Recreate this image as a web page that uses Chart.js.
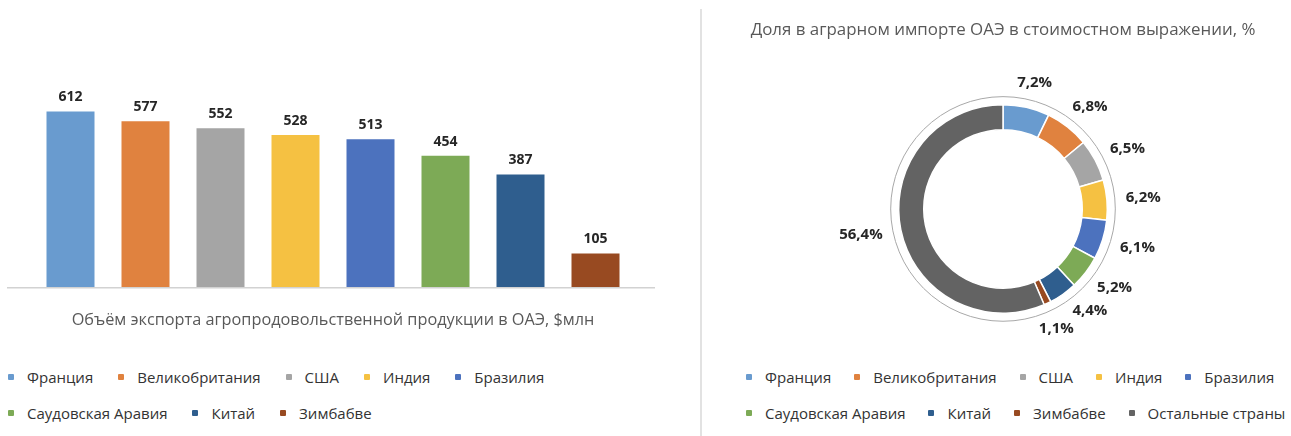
<!DOCTYPE html>
<html>
<head>
<meta charset="utf-8">
<script src="https://cdn.jsdelivr.net/npm/chart.js@4.4.1/dist/chart.umd.min.js"></script>
<style>
html,body{margin:0;padding:0;background:#fff;width:1291px;height:436px;overflow:hidden;font-family:"Open Sans",sans-serif;}
#leftBox{position:absolute;left:0;top:0;width:680px;height:330px;}
#rightBox{position:absolute;left:715px;top:0;width:576px;height:345px;}
#divider{position:absolute;left:700px;top:9px;width:2px;height:427px;background:#e2e2e2;}
.legend{position:absolute;top:359px;display:flex;flex-wrap:wrap;column-gap:25px;font-size:15px;color:#333;}
.legend .item{display:flex;align-items:center;height:36px;line-height:36px;white-space:nowrap;}
.legend .mk{width:6px;height:6px;border-radius:1px;margin-right:13px;}
#leftLegend{left:8px;width:620px;}
#rightLegend{left:746px;width:600px;column-gap:23px;}
</style>
</head>
<body>
<div id="leftBox"><canvas id="bar"></canvas></div>
<div id="divider"></div>
<div id="rightBox"><canvas id="donut"></canvas></div>
<div id="leftLegend" class="legend"></div>
<div id="rightLegend" class="legend"></div>
<script>
// ---- data ----
const countries = ["Франция","Великобритания","США","Индия","Бразилия","Саудовская Аравия","Китай","Зимбабве"];
const exportValues = [612, 577, 552, 528, 513, 454, 387, 105];
const shareLabels = ["Франция","Великобритания","США","Индия","Бразилия","Саудовская Аравия","Китай","Зимбабве","Остальные страны"];
const shareValues = [7.2, 6.8, 6.5, 6.2, 6.1, 5.2, 4.4, 1.1, 56.4];
const colors = ["#699BCF","#E0823F","#A5A5A5","#F5C142","#4C72BE","#7DAA56","#2F5E8E","#984A21","#636363"];
const barTitle = "Объём экспорта агропродовольственной продукции в ОАЭ, $млн";
const donutTitle = "Доля в аграрном импорте ОАЭ в стоимостном выражении, %";

const Y_MIN = -18, Y_MAX = 1010;
const FONT = '"Open Sans", sans-serif';

// ---- legends (HTML) ----
function buildLegend(id, labels){
  const el = document.getElementById(id);
  labels.forEach((l,i)=>{
    const it = document.createElement('div'); it.className='item';
    const mk = document.createElement('span'); mk.className='mk'; mk.style.background = colors[i];
    const tx = document.createElement('span'); tx.textContent = l;
    it.appendChild(mk); it.appendChild(tx); el.appendChild(it);
  });
}
buildLegend('leftLegend', countries);
buildLegend('rightLegend', shareLabels);

// ---- bar chart ----
const barPlugin = {
  id: 'barDeco',
  afterDatasetsDraw(chart){
    const ctx = chart.ctx, area = chart.chartArea;
    const y0 = chart.scales.y.getPixelForValue(Y_MIN);
    ctx.save();
    ctx.strokeStyle = '#d2d2d2'; ctx.lineWidth = 1.5;
    ctx.beginPath(); ctx.moveTo(area.left - 26, y0); ctx.lineTo(area.right + 22, y0); ctx.stroke();
    ctx.font = 'bold 14px ' + FONT; ctx.fillStyle = '#262626';
    ctx.textAlign = 'center'; ctx.textBaseline = 'alphabetic';
    const meta = chart.getDatasetMeta(0);
    meta.data.forEach((bar,i)=>{ ctx.fillText(String(exportValues[i]), bar.x, bar.y - 10); });
    ctx.restore();
  }
};
new Chart(document.getElementById('bar'), {
  type: 'bar',
  data: { labels: countries, datasets: [{ data: exportValues, backgroundColor: colors.slice(0,8), base: Y_MIN, barPercentage: 0.64, categoryPercentage: 1 }] },
  options: {
    responsive: true, maintainAspectRatio: false, animation: false,
    layout: { padding: { left: 33, right: 47, top: 0, bottom: 0 } },
    scales: {
      x: { display: false },
      y: { display: false, min: Y_MIN, max: Y_MAX }
    },
    plugins: {
      legend: { display: false },
      tooltip: { enabled: false },
      title: { display: true, text: barTitle, position: 'bottom', color: '#595959',
               font: { family: FONT, size: 16.3, weight: 'normal' }, padding: { top: 22.6, bottom: 0 } }
    }
  },
  plugins: [barPlugin]
});

// ---- doughnut chart ----
const fmt = v => v.toFixed(1).replace('.', ',') + '%';
const donutPlugin = {
  id: 'donutDeco',
  beforeDatasetsDraw(chart){
    const arc = chart.getDatasetMeta(0).data[0]; if(!arc) return;
    const ctx = chart.ctx; ctx.save();
    ctx.strokeStyle = '#a8a8a8'; ctx.lineWidth = 1;
    ctx.beginPath(); ctx.arc(arc.x, arc.y, arc.outerRadius + 8, 0, Math.PI*2); ctx.stroke();
    ctx.restore();
  },
  afterDatasetsDraw(chart){
    const ctx = chart.ctx; ctx.save();
    ctx.font = 'bold 15px ' + FONT; ctx.fillStyle = '#262626';
    ctx.textAlign = 'center'; ctx.textBaseline = 'middle';
    const arcs = chart.getDatasetMeta(0).data;
    const h = 13;
    const items = arcs.map((arc,i)=>{
      const t = fmt(shareValues[i]);
      return { t, w: ctx.measureText(t).width, a: (arc.startAngle + arc.endAngle)/2, arc };
    });
    const pos = it => {
      const dx = Math.cos(it.a), dy = Math.sin(it.a);
      const r = it.arc.outerRadius + 19;
      return { x: it.arc.x + dx*r + dx*it.w/2, y: it.arc.y + dy*r + dy*h/2 };
    };
    const overlap = (p,q,a,b) => Math.abs(p.x-q.x) < (a.w+b.w)/2 + 3 && Math.abs(p.y-q.y) < h + 5;
    for(let iter=0; iter<400; iter++){
      let moved = false;
      for(let i=0;i<items.length-1;i++){
        const A = items[i], B = items[i+1];
        if(overlap(pos(A),pos(B),A,B)){ A.a -= 0.004; B.a += 0.004; moved = true; }
      }
      if(!moved) break;
    }
    items.forEach(it=>{ const p = pos(it); ctx.fillText(it.t, p.x, p.y); });
    ctx.restore();
  }
};
new Chart(document.getElementById('donut'), {
  type: 'doughnut',
  data: { labels: shareLabels, datasets: [{ data: shareValues, backgroundColor: colors, borderColor: '#ffffff', borderWidth: 1.5 }] },
  options: {
    responsive: true, maintainAspectRatio: false, animation: false,
    cutout: '76%',
    layout: { padding: { left: 0, right: 0, top: 0, bottom: 31 } },
    plugins: {
      legend: { display: false },
      tooltip: { enabled: false },
      title: { display: true, text: donutTitle, position: 'top', color: '#595959',
               font: { family: FONT, size: 16.9, weight: 'normal' }, padding: { top: 19.8, bottom: 63.8 } }
    }
  },
  plugins: [donutPlugin]
});
</script>
</body>
</html>
